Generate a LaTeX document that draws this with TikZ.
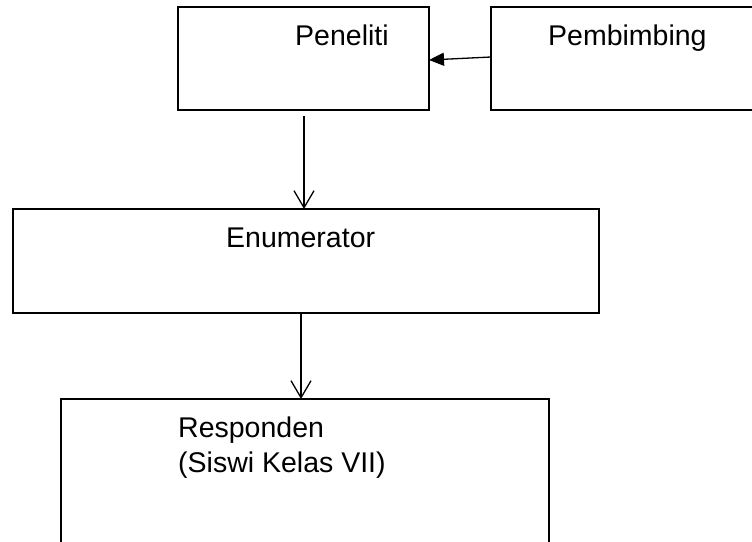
\documentclass[tikz,border=0pt]{standalone}
\usepackage{fontspec}
\setmainfont{Liberation Sans}
\usetikzlibrary{positioning, arrows.meta}

\tikzset{
  kotak/.style={draw, line width=1.2pt, inner sep=0pt, outer sep=0pt},
  teks/.style={anchor=base west, inner sep=0pt, font=\fontsize{28.5}{35}\selectfont},
  panah/.style={line width=1.3pt, -{Straight Barb[length=17pt,width=20pt,line width=1.3pt]}},
  panahisi/.style={line width=1.3pt, -{Triangle[length=15pt,width=13pt]}},
}

\begin{document}
\begin{tikzpicture}[x=1pt, y=-1pt]
    \useasboundingbox (0,0) rectangle (752,541);
    \clip (0,0) rectangle (752,541);

    % Kotak Peneliti
    \node[kotak, minimum width=251pt, minimum height=103pt] (peneliti) at (303.5,58.5) {};
    \node[teks] (tpeneliti) at (295,45) {Peneliti};

    % Kotak Pembimbing (terpotong di kanan)
    \node[kotak, minimum width=300pt, minimum height=103pt] (pembimbing) at (641,58.5) {};
    \node[teks] (tpembimbing) at (548,45) {Pembimbing};

    % Kotak Enumerator
    \node[kotak, minimum width=586pt, minimum height=104pt] (enumerator) at (306,261) {};
    \node[teks] (tenumerator) at (226,247) {Enumerator};

    % Kotak Responden (terpotong di bawah)
    \node[kotak, minimum width=488pt, minimum height=201pt] (responden) at (305,499.5) {};
    \node[teks] (tresponden) at (178,437) {Responden};
    \node[teks] (tsiswa) at (178,472) {(Siswi Kelas VII)};

    % Panah
    \draw[panahisi] ([yshift=1.5pt]pembimbing.west) -- ([yshift=-1.5pt]peneliti.east);
    \draw[panah] ([xshift=0.5pt, yshift=-6pt]peneliti.south) -- ([xshift=0.5pt]peneliti.south |- enumerator.north);
    \draw[panah] ([xshift=-5pt]enumerator.south) -- ([xshift=-4pt]responden.north);
\end{tikzpicture}
\end{document}
